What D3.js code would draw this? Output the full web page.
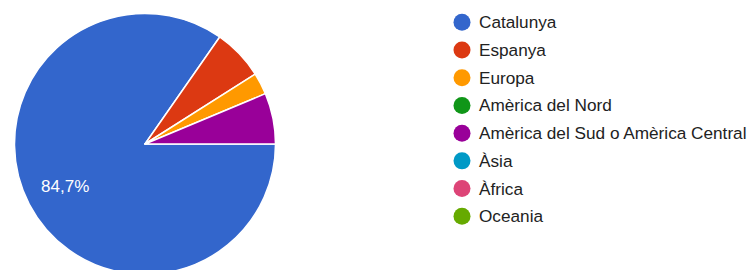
<!DOCTYPE html>
<html>
<head>
<meta charset="utf-8">
<script src="https://cdn.jsdelivr.net/npm/d3@7"></script>
<style>
  html, body { margin: 0; padding: 0; background: #fff; overflow: hidden; }
  svg { display: block; font-family: "Liberation Sans", Arial, sans-serif; }
</style>
</head>
<body>
<svg id="chart" width="752" height="270"></svg>
<script>
const categories = ["Catalunya", "Espanya", "Europa", "Amèrica del Nord",
  "Amèrica del Sud o Amèrica Central", "Àsia", "Àfrica", "Oceania"];
const shares = [84.7, 6.3, 2.7, 0, 6.3, 0, 0, 0];
const colors = ["#3366cc", "#dc3912", "#ff9900", "#109618",
  "#990099", "#0099c6", "#dd4477", "#66aa00"];

const svg = d3.select("#chart");
const cx = 145, cy = 144, radius = 130.5;

const colorScale = d3.scaleOrdinal().domain(categories).range(colors);

const pie = d3.pie()
  .value((d) => d.value)
  .sort(null)
  .startAngle(Math.PI / 2)
  .endAngle(Math.PI / 2 + 2 * Math.PI);

const data = categories.map((c, i) => ({ name: c, value: shares[i] }));
const arcs = pie(data).filter((d) => d.data.value > 0);

const arc = d3.arc().innerRadius(0).outerRadius(radius);
const labelArc = d3.arc().innerRadius(radius * 0.69).outerRadius(radius * 0.69);

const pieG = svg.append("g").attr("transform", `translate(${cx},${cy})`);

pieG.selectAll("path")
  .data(arcs)
  .join("path")
  .attr("d", arc)
  .attr("fill", (d) => colorScale(d.data.name))
  .attr("stroke", "#fff")
  .attr("stroke-width", 1.5)
  .attr("stroke-linejoin", "round");

// only big slices get a label
pieG.selectAll("text")
  .data(arcs.filter((d) => d.data.value > 10))
  .join("text")
  .attr("transform", (d) => `translate(${labelArc.centroid(d)})`)
  .attr("text-anchor", "middle")
  .attr("dy", "0.35em")
  .attr("fill", "#fff")
  .style("font-size", "17px")
  .text((d) => d3.format(".1f")(d.data.value).replace(".", ",") + "%");

// Legend
const legendY = d3.scalePoint()
  .domain(categories)
  .range([22.3, 216.3]);

const legend = svg.append("g");
const items = legend.selectAll("g")
  .data(categories)
  .join("g")
  .attr("transform", (d) => `translate(462,${legendY(d)})`);

items.append("circle")
  .attr("r", 8.5)
  .attr("fill", (d) => colorScale(d));

items.append("text")
  .attr("x", 17)
  .attr("dy", "0.35em")
  .attr("fill", "#222")
  .style("font-size", "17.2px")
  .text((d) => d);
</script>
</body>
</html>
